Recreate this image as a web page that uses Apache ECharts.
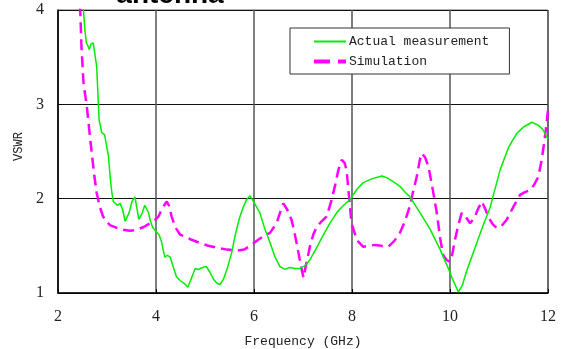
<!DOCTYPE html>
<html><head><meta charset="utf-8">
<script src="https://cdn.jsdelivr.net/npm/echarts@6/dist/echarts.min.js"></script>
<style>html,body{margin:0;padding:0;background:#fff}#c{width:569px;height:349px}</style>
</head><body><div id="c"></div>
<script>
const titleText = 'antenna';
const seriesNames = ['Actual measurement', 'Simulation'];
const xTicks = [2, 4, 6, 8, 10, 12];
const yTicks = [1, 2, 3, 4];
const measFreq = [2.50,2.52,2.55,2.58,2.61,2.64,2.67,2.72,2.76,2.79,2.82,2.84,2.87,2.89,2.92,2.95,2.99,3.03,3.07,3.10,3.13,3.16,3.21,3.27,3.32,3.37,3.40,3.45,3.51,3.57,3.61,3.65,3.67,3.72,3.77,3.81,3.85,3.88,3.93,3.97,4.01,4.06,4.11,4.15,4.18,4.23,4.29,4.35,4.42,4.50,4.58,4.65,4.69,4.74,4.80,4.87,4.95,5.03,5.10,5.18,5.25,5.31,5.38,5.46,5.54,5.62,5.70,5.78,5.85,5.92,6.00,6.12,6.22,6.33,6.43,6.53,6.63,6.73,6.84,6.94,7.04,7.14,7.28,7.41,7.55,7.70,7.83,7.96,8.10,8.23,8.40,8.61,8.72,8.84,8.98,9.08,9.18,9.39,9.59,9.80,9.95,10.05,10.17,10.25,10.35,10.47,10.65,10.82,11.02,11.20,11.36,11.50,11.67,11.80,11.90,12.00];
const measVswr = [4.10,4.00,3.78,3.65,3.62,3.58,3.64,3.65,3.64,3.40,3.05,2.83,2.76,2.70,2.72,2.68,2.70,2.45,2.20,2.06,1.97,1.95,1.93,1.95,1.88,1.76,1.74,1.85,1.97,2.02,1.90,1.78,1.77,1.85,1.93,1.95,1.85,1.77,1.70,1.67,1.65,1.62,1.55,1.45,1.38,1.40,1.38,1.28,1.17,1.13,1.10,1.06,1.06,1.18,1.26,1.25,1.27,1.28,1.22,1.14,1.10,1.09,1.15,1.27,1.42,1.62,1.79,1.91,1.99,2.03,1.96,1.85,1.68,1.53,1.38,1.28,1.25,1.27,1.26,1.26,1.29,1.35,1.48,1.61,1.74,1.86,1.93,1.99,2.10,2.17,2.21,2.24,2.22,2.18,2.13,2.07,2.02,1.85,1.68,1.46,1.28,1.15,1.01,1.08,1.25,1.42,1.68,1.91,2.30,2.55,2.69,2.76,2.81,2.78,2.73,2.63];
const simFreq = [2.45,2.48,2.52,2.59,2.64,2.69,2.74,2.79,2.85,2.92,2.99,3.06,3.20,3.33,3.47,3.60,3.75,3.88,3.97,4.05,4.13,4.22,4.27,4.32,4.39,4.49,4.70,4.90,5.07,5.24,5.45,5.65,5.80,5.92,6.10,6.33,6.46,6.55,6.60,6.68,6.77,6.85,6.91,6.96,7.01,7.07,7.14,7.21,7.28,7.38,7.48,7.57,7.65,7.72,7.79,7.85,7.89,7.94,7.99,8.10,8.23,8.35,8.47,8.60,8.74,8.86,8.98,9.08,9.18,9.25,9.32,9.38,9.42,9.49,9.56,9.64,9.73,9.80,9.86,9.93,10.00,10.05,10.10,10.17,10.24,10.33,10.41,10.50,10.58,10.65,10.72,10.78,10.87,10.95,11.05,11.16,11.30,11.43,11.53,11.63,11.72,11.80,11.86,11.91,11.96,12.00];
const simVswr = [4.05,3.60,3.23,2.97,2.72,2.48,2.25,2.06,1.92,1.81,1.76,1.72,1.69,1.67,1.66,1.67,1.70,1.74,1.77,1.81,1.90,1.97,1.92,1.81,1.70,1.62,1.57,1.53,1.50,1.48,1.46,1.45,1.46,1.50,1.57,1.64,1.74,1.88,1.95,1.88,1.77,1.58,1.42,1.28,1.16,1.32,1.49,1.62,1.70,1.76,1.81,1.96,2.13,2.30,2.41,2.38,2.30,2.02,1.74,1.56,1.49,1.50,1.51,1.50,1.49,1.55,1.64,1.76,1.92,2.08,2.23,2.40,2.48,2.44,2.34,2.12,1.85,1.58,1.40,1.35,1.33,1.42,1.56,1.72,1.85,1.80,1.74,1.80,1.90,1.97,1.89,1.81,1.73,1.69,1.71,1.78,1.92,2.04,2.07,2.09,2.15,2.23,2.38,2.55,2.75,2.94];

const zip = (a, b) => a.map((v, i) => [v, b[i]]);
const chart = echarts.init(document.getElementById('c'));
const mono = 'Liberation Mono';
const serif = 'Liberation Serif';
const solidIcon = 'path://M0,0h32v2h-32z';
const dashIcon = 'path://M0,0h16v4h-16z M24,0h8v4h-8z';
chart.setOption({
  animation: false,
  graphic: [{
    type: 'text', x: 170, y: 9, z: 100,
    style: { text: titleText, x: 0, y: 0, align: 'center', verticalAlign: 'bottom',
      font: 'bold 28px "Liberation Sans"', fill: '#000' }
  }],
  grid: { left: 58, right: 21, top: 10, bottom: 56, show: true, borderColor: '#666', borderWidth: 1,
    outerBoundsMode: 'none', containLabel: false },
  legend: {
    orient: 'vertical', left: 290, top: 28, width: 220,
    padding: [7, 20, 6, 24], itemGap: 7, itemWidth: 32, itemHeight: 14,
    backgroundColor: '#fff', borderColor: '#333', borderWidth: 1, borderRadius: 0,
    symbolKeepAspect: true,
    textStyle: { fontFamily: mono, fontSize: 13, color: '#222', padding: [0, 0, 0, -2] },
    data: [
      { name: seriesNames[0], icon: solidIcon },
      { name: seriesNames[1], icon: dashIcon }
    ]
  },
  xAxis: {
    type: 'value', min: 2, max: 12, interval: 2,
    name: 'Frequency (GHz)', nameLocation: 'middle', nameGap: 42,
    nameTextStyle: { fontFamily: mono, fontSize: 13, color: '#222' },
    axisLine: { lineStyle: { color: '#000', width: 1.5 } },
    axisTick: { inside: true, length: 4, lineStyle: { color: '#000' } },
    axisLabel: { fontFamily: serif, fontSize: 16, color: '#222', margin: 16,
      formatter: v => xTicks.includes(v) ? String(v) : '' },
    splitLine: { show: true, lineStyle: { color: '#555', width: 1.5 } }
  },
  yAxis: {
    type: 'value', min: 1, max: 4, interval: 1,
    name: 'VSWR', nameLocation: 'middle', nameGap: 28,
    nameTextStyle: { fontFamily: mono, fontSize: 12, color: '#222', padding: [0, 0, 0, 10] },
    axisLine: { show: true, lineStyle: { color: '#000', width: 1.5 } },
    axisTick: { show: true, inside: true, length: 4, lineStyle: { color: '#000' } },
    axisLabel: { fontFamily: serif, fontSize: 16, color: '#222', margin: 14,
      formatter: v => yTicks.includes(v) ? String(v) : '' },
    splitLine: { show: true, lineStyle: { color: '#111', width: 1 } }
  },
  series: [
    { name: seriesNames[0], type: 'line', data: zip(measFreq, measVswr), showSymbol: false, symbol: 'none',
      lineStyle: { color: '#00ee00', width: 1.5 }, itemStyle: { color: '#00ee00' }, z: 3 },
    { name: seriesNames[1], type: 'line', data: zip(simFreq, simVswr), showSymbol: false, symbol: 'none',
      lineStyle: { color: '#ff00ff', width: 2.5, type: [11, 6] }, itemStyle: { color: '#ff00ff' }, z: 2 }
  ]
});
</script></body></html>
